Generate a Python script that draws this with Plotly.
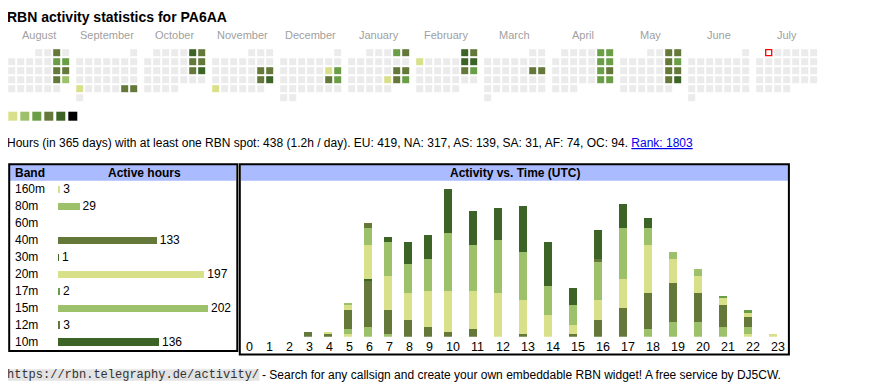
import datetime as dt
import plotly.graph_objects as go

OFF = 8                      # page body margin of the browser
W, H = 870 - OFF, 390 - OFF  # figure size
FONT = "Liberation Sans, Arial, sans-serif"

# ---------------- data ----------------
title_text = "RBN activity statistics for PA6AA"
months = ["August", "September", "October", "November", "December", "January",
          "February", "March", "April", "May", "June", "July"]
month_years = [2024, 2024, 2024, 2024, 2024, 2025, 2025, 2025, 2025, 2025, 2025, 2025]
month_numbers = [8, 9, 10, 11, 12, 1, 2, 3, 4, 5, 6, 7]
today = "2025-07-01"

active_days = [
    "2024-08-03", "2024-08-10", "2024-08-11", "2024-08-17", "2024-08-18", "2024-08-24", "2024-08-25",
    "2024-09-23", "2024-09-28", "2024-09-29",
    "2024-10-05", "2024-10-06", "2024-10-12", "2024-10-13", "2024-10-19", "2024-10-20",
    "2024-11-16", "2024-11-17", "2024-11-23", "2024-11-24", "2024-11-25",
    "2024-12-14", "2024-12-15", "2024-12-21", "2024-12-22",
    "2025-01-04", "2025-01-05", "2025-01-18", "2025-01-19", "2025-01-24", "2025-01-25", "2025-01-26",
    "2025-02-01", "2025-02-02", "2025-02-03", "2025-02-08", "2025-02-09", "2025-02-15", "2025-02-16",
    "2025-03-15", "2025-03-16",
    "2025-04-05", "2025-04-06", "2025-04-12", "2025-04-13", "2025-04-19", "2025-04-20", "2025-04-26", "2025-04-27",
    "2025-05-03", "2025-05-04", "2025-05-10", "2025-05-11", "2025-05-17", "2025-05-18", "2025-05-24", "2025-05-25",
]
active_levels = [
    4, 3, 3, 4, 4, 4, 2,
    1, 4, 4,
    5, 4, 4, 4, 4, 5,
    4, 4, 4, 5, 1,
    1, 3, 4, 3,
    3, 4, 4, 4, 1, 4, 3,
    5, 4, 1, 5, 5, 4, 3,
    4, 4,
    3, 3, 3, 3, 3, 4, 3, 3,
    4, 4, 4, 3, 4, 4, 4, 5,
]
level_colors = ["#ebebeb", "#d9e08a", "#9dc06b", "#6a9e46", "#647839", "#3b6426", "#000000"]

info_text = ("Hours (in 365 days) with at least one RBN spot: 438 (1.2h / day). "
             "EU: 419, NA: 317, AS: 139, SA: 31, AF: 74, OC: 94. ")
rank_text = "Rank: 1803"

bands = ["160m", "80m", "60m", "40m", "30m", "20m", "17m", "15m", "12m", "10m"]
band_hours = [3, 29, 0, 133, 1, 197, 2, 202, 3, 136]
band_levels = [1, 2, 3, 4, 5, 1, 3, 2, 4, 5]

hour_labels = [str(h) for h in range(24)]
#            0  1  2  3  4  5  6   7   8   9  10  11  12  13  14  15  16  17  18  19  20  21  22  23
h_160m = [0, 0, 0, 0, 0, 1, 0, 0, 0, 0, 0, 0, 0, 0, 0, 0, 0, 0, 0, 0, 0, 0, 1, 1]
h_80m = [0, 0, 0, 0, 0, 2, 4, 1, 0, 0, 0, 0, 0, 0, 0, 0, 0, 0, 3, 6, 6, 4, 3, 0]
h_60m = [0] * 24
h_40m = [0, 0, 0, 2, 1, 8, 19, 10, 7, 4, 2, 3, 0, 1, 0, 1, 7, 12, 15, 16, 12, 9, 4, 0]
h_30m = [0, 0, 0, 0, 0, 0, 1, 0, 0, 0, 0, 0, 0, 0, 0, 0, 0, 0, 0, 0, 0, 0, 0, 0]
h_20m = [0, 0, 0, 0, 1, 2, 14, 14, 11, 15, 17, 16, 18, 14, 9, 4, 8, 12, 20, 10, 7, 3, 2, 0]
h_17m = [0, 0, 0, 0, 0, 0, 0, 0, 0, 0, 0, 0, 0, 0, 0, 0, 0, 0, 0, 0, 0, 1, 1, 0]
h_15m = [0, 0, 0, 0, 0, 1, 7, 14, 12, 13, 24, 19, 22, 20, 12, 8, 16, 21, 7, 3, 3, 0, 0, 0]
h_12m = [0, 0, 0, 0, 0, 0, 2, 0, 0, 0, 0, 0, 0, 0, 0, 0, 1, 0, 0, 0, 0, 0, 0, 0]
h_10m = [0, 0, 0, 0, 0, 0, 0, 2, 9, 10, 18, 14, 13, 19, 18, 7, 12, 10, 4, 0, 0, 0, 0, 0]
hourly = [h_160m, h_80m, h_60m, h_40m, h_30m, h_20m, h_17m, h_15m, h_12m, h_10m]

footer_url = "https://rbn.telegraphy.de/activity/"
footer_text = "- Search for any callsign and create your own embeddable RBN widget! A free service by DJ5CW."

# ---------------- layout helpers (page-pixel coordinates) ----------------
CAL_X0, CAL_Y0, CELL, BLOCK = 11.7, 52.7, 9, 68
level_by_day = dict(zip(active_days, active_levels))

cx, cy, cc = [], [], []
today_xy = None
for m, (yr, mo) in enumerate(zip(month_years, month_numbers)):
    d = dt.date(yr, mo, 1)
    first_wd = d.weekday()
    while d.month == mo:
        row = (d.day - 1 + first_wd) // 7
        col = d.weekday()
        x = CAL_X0 + BLOCK * m + CELL * col
        y = CAL_Y0 + CELL * row
        iso = d.isoformat()
        if iso == today:
            today_xy = (x, y)
        else:
            cx.append(x)
            cy.append(y)
            cc.append(level_colors[level_by_day.get(iso, 0)])
        d += dt.timedelta(days=1)

fig = go.Figure()

# calendar
fig.add_trace(go.Scatter(x=cx, y=cy, mode="markers", xaxis="x", yaxis="y",
                         marker=dict(symbol="square", size=7, color=cc, line=dict(width=0)),
                         hoverinfo="skip"))
fig.add_trace(go.Scatter(x=[today_xy[0]], y=[today_xy[1]], mode="markers", xaxis="x", yaxis="y",
                         marker=dict(symbol="square", size=6, color="#ffffff",
                                     line=dict(width=1.3, color="#ff0000")),
                         hoverinfo="skip"))
# colour legend
fig.add_trace(go.Scatter(x=[12.8 + 12 * i for i in range(6)], y=[116.2] * 6, mode="markers",
                         xaxis="x", yaxis="y",
                         marker=dict(symbol="square", size=9, color=level_colors[1:], line=dict(width=0)),
                         hoverinfo="skip"))

# band bars
fig.add_trace(go.Bar(orientation="h", x=band_hours, y=bands, xaxis="x2", yaxis="y2",
                     marker=dict(color=[level_colors[i] for i in band_levels], line=dict(width=0)),
                     width=0.42,
                     text=[str(v) if v else "" for v in band_hours], textposition="outside",
                     textfont=dict(family=FONT, size=12, color="#000000"),
                     constraintext="none", cliponaxis=False, hoverinfo="skip"))

# hour bars
lefts = []
pos = 244.3
for lab in hour_labels:
    lefts.append(pos)
    pos += 15 + 5 * len(lab)
centers = [l + 4 for l in lefts]
for band, vals, lv in zip(bands, hourly, band_levels):
    fig.add_trace(go.Bar(x=centers, y=vals, width=8, xaxis="x3", yaxis="y3",
                         marker=dict(color=level_colors[lv], line=dict(width=0)),
                         name=band, hoverinfo="skip"))

PX_PER_H_TABLE = 150 / 202
PX_PER_H_HOUR = 2.42
BASE_Y = 336.7
TOP_Y = 181.0


def px(v):
    return (v - OFF) / W


def py(v):
    return 1 - (v - OFF) / H


ax_hidden = dict(visible=False, showgrid=False, zeroline=False, fixedrange=True)
fig.update_layout(
    width=W, height=H, margin=dict(l=0, r=0, t=0, b=0),
    paper_bgcolor="#ffffff", plot_bgcolor="rgba(0,0,0,0)",
    showlegend=False, barmode="stack",
    xaxis=dict(domain=[0, 1], range=[OFF, OFF + W], **ax_hidden),
    yaxis=dict(domain=[0, 1], range=[OFF + H, OFF], **ax_hidden),
    xaxis2=dict(domain=[px(58), px(236)], range=[0, 178 / PX_PER_H_TABLE], anchor="y2", **ax_hidden),
    yaxis2=dict(domain=[py(350.5), py(180.8)], range=[9.5, -0.5], type="category",
                categoryorder="array", categoryarray=bands, anchor="x2", **ax_hidden),
    xaxis3=dict(domain=[px(240), px(790)], range=[240, 790], anchor="y3", **ax_hidden),
    yaxis3=dict(domain=[py(BASE_Y), py(TOP_Y)], range=[0, (BASE_Y - TOP_Y) / PX_PER_H_HOUR],
                anchor="x3", **ax_hidden),
)

shapes = []
shapes.append(dict(type="rect", xref="x", yref="y", x0=10, x1=236, y0=165, y1=180.7,
                   fillcolor="#aabbff", line=dict(width=0), layer="below"))
shapes.append(dict(type="rect", xref="x", yref="y", x0=241, x1=788, y0=165, y1=180.7,
                   fillcolor="#aabbff", line=dict(width=0), layer="below"))
shapes.append(dict(type="rect", xref="x", yref="y", x0=7.3, x1=259.5, y0=369.3, y1=380.7,
                   fillcolor="#e3e3e3", line=dict(width=0), layer="below"))
shapes.append(dict(type="rect", xref="x", yref="y", x0=9.2, x1=237.3, y0=164.2, y1=351.0,
                   line=dict(color="#000000", width=2), fillcolor="rgba(0,0,0,0)"))
shapes.append(dict(type="rect", xref="x", yref="y", x0=239.8, x1=788.9, y0=164.2, y1=354.5,
                   line=dict(color="#000000", width=2), fillcolor="rgba(0,0,0,0)"))

ann = []
PAD = 3  # annotation box padding + glyph side bearing


def text(x, y, s, size=11, color="#000000", xanchor="left", family=FONT, xref="x", yref="y"):
    xs = 0
    if xanchor == "left":
        xs = -PAD
        if xref == "x" and x < OFF + 0.5:
            xs += x - (OFF + 0.5)
            x = OFF + 0.5
    ann.append(dict(x=x, y=y, xref=xref, yref=yref, text=s, showarrow=False,
                    xanchor=xanchor, yanchor="middle", xshift=xs,
                    font=dict(family=family, size=size, color=color)))


text(8.3, 16.5, "<b>" + title_text + "</b>", size=14)
for m, name in enumerate(months):
    text(CAL_X0 + BLOCK * m + 27, 35, name, size=11, color="#a0a0a0", xanchor="center")
text(8.3, 142.5, info_text + "<span style='color:#0000ee'><u>" + rank_text + "</u></span>", size=12)

text(16, 173, "<b>Band</b>", size=12)
text(144, 173, "<b>Active hours</b>", size=12, xanchor="center")
text(514.5, 173, "<b>Activity vs. Time (UTC)</b>", size=12, xanchor="center")
for b in bands:
    text(16, b, b, size=12, yref="y2")
for l, lab in zip(lefts, hour_labels):
    text(l + 2.3, 346.5, lab, size=12.5, xref="x3")

text(8.3, 375, footer_url, size=12, color="#333333", family="Liberation Mono, Courier New, monospace")
text(263.3, 375, footer_text, size=12)

fig.update_layout(shapes=shapes, annotations=ann)
fig.write_html("out.html")
